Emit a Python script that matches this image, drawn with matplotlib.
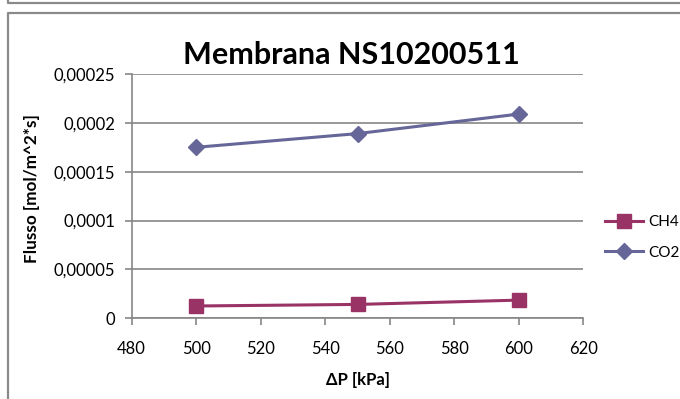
import matplotlib.pyplot as plt
from matplotlib.lines import Line2D

# dati
pressione = [500, 550, 600]          # ΔP [kPa]
flusso_ch4 = [0.0000126, 0.0000142, 0.0000186]
flusso_co2 = [0.000175, 0.000189, 0.000209]
y_ticks = [0, 0.00005, 0.0001, 0.00015, 0.0002, 0.00025]
y_labels = ['0', '0,00005', '0,0001', '0,00015', '0,0002', '0,00025']
x_ticks = [480, 500, 520, 540, 560, 580, 600, 620]

col_ch4 = '#993366'
col_co2 = '#666699'
col_grid = '#868686'

plt.rcParams['font.family'] = ['Lato', 'DejaVu Sans']

W, H = 680, 399
fig = plt.figure(figsize=(W / 100, H / 100), dpi=100)

# cornici del grafico (stile Excel)
def px_line(xs, ys, **kw):
    fig.add_artist(Line2D([x / W for x in xs], [1 - y / H for y in ys],
                          transform=fig.transFigure, color='#8a8a8a', lw=1.6, **kw))

px_line([8, 8, 690], [-5, 3.3, 3.3])
px_line([8, 8, 690], [420, 12.7, 12.7])

ax = fig.add_axes([131.7 / W, 1 - 318.3 / H, (583.3 - 131.7) / W, (318.3 - 74) / H])

ax.plot(pressione, flusso_ch4, color=col_ch4, lw=2.2, marker='s', ms=10, label='CH4')
ax.plot(pressione, flusso_co2, color=col_co2, lw=2.2, marker='D', ms=8, label='CO2')

ax.set_xlim(480, 620)
ax.set_ylim(0, 0.00025)
ax.set_xticks(x_ticks)
ax.set_yticks(y_ticks)
ax.set_yticklabels(y_labels)
ax.grid(axis='y', color=col_grid, lw=1.2)
ax.set_axisbelow(True)

for s in ['top', 'right']:
    ax.spines[s].set_visible(False)
for s in ['left', 'bottom']:
    ax.spines[s].set_color(col_grid)
    ax.spines[s].set_linewidth(1.2)
ax.tick_params(axis='both', colors=col_grid, length=5, width=1.2, labelcolor='black', labelsize=12)
ax.tick_params(axis='x', pad=11)
ax.tick_params(axis='y', pad=7)

ax.set_xlabel('ΔP [kPa]', fontsize=12, fontweight='bold', labelpad=11)
ax.set_ylabel('Flusso [mol/m^2*s]', fontsize=12.3, fontweight='bold')
ax.yaxis.set_label_coords(-0.203, 0.53)

fig.text(351 / W, 1 - 55.5 / H, 'Membrana NS10200511', fontsize=22, fontweight='bold',
         ha='center', va='center')

ax.legend(loc='center left', bbox_to_anchor=(1.018, 0.331), frameon=False, fontsize=11,
          handlelength=2.5, labelspacing=1.1, handletextpad=0.3)

fig.savefig('out.png', dpi=100)
